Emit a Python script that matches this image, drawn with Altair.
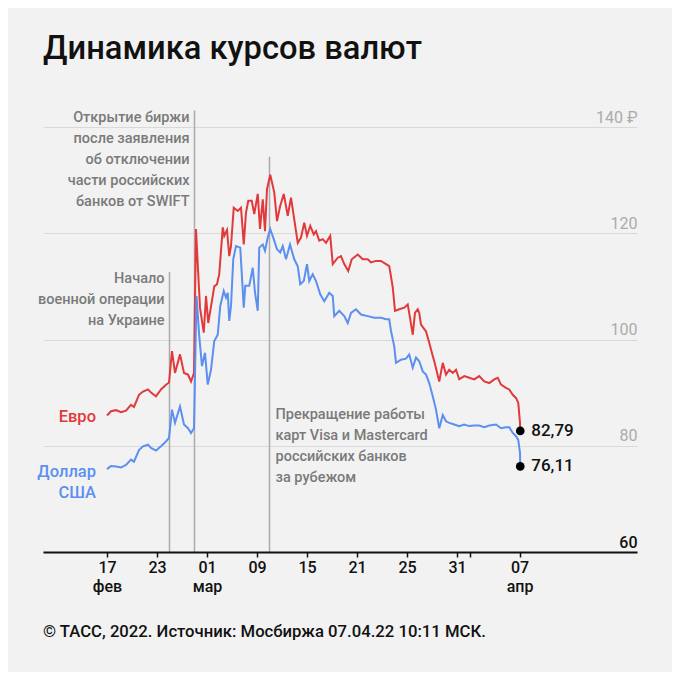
import altair as alt
import pandas as pd

# ---------------- data ----------------
# t = trading-session index (0 = 17 Feb 2022, fractional part = intraday), values in rubles
eur_t = [0.00, 0.32, 0.72, 1.12, 1.52, 1.92, 2.16, 2.56, 2.88, 3.28,
         3.52, 3.92, 4.32, 4.72, 4.96, 5.20, 5.44, 5.84, 6.16, 6.48,
         6.72, 6.96, 7.12, 7.28, 7.44, 7.74, 7.92, 8.10, 8.46, 8.58,
         8.80, 8.98, 9.26, 9.38, 9.60, 9.78, 9.92, 10.14, 10.46, 10.72,
         10.94, 11.12, 11.30, 11.58, 11.78, 12.06, 12.24, 12.46, 12.64, 12.80,
         13.06, 13.38, 13.60, 13.86, 14.14, 14.46, 14.72, 14.98, 15.26, 15.52,
         15.78, 16.00, 16.26, 16.54, 16.72, 16.98, 17.26, 17.52, 17.86, 18.06,
         18.46, 18.72, 18.98, 19.30, 19.58, 20.06, 20.46, 20.86, 21.12, 21.52,
         21.92, 22.32, 22.58, 22.86, 23.04, 23.38, 23.78, 24.06, 24.26, 24.46,
         24.64, 24.86, 24.98, 25.12, 25.52, 25.78, 26.06, 26.18, 26.58, 26.86,
         27.12, 27.38, 27.66, 27.92, 28.18, 28.58, 28.98, 29.38, 29.78, 30.18,
         30.58, 30.98, 31.26, 31.52, 31.92, 32.18, 32.46, 32.72, 32.90, 33.04,
         33.06]
eur_v = [85.7, 86.5, 86.7, 86.3, 86.6, 87.7, 87.3, 89.6, 90.2, 90.6,
         90.0, 89.3, 90.6, 91.5, 91.9, 97.8, 93.7, 97.2, 93.7, 93.4,
         92.1, 93.7, 120.8, 113.2, 106.0, 101.3, 108.2, 103.1, 108.2, 110.0,
         110.4, 112.3, 121.1, 119.5, 120.6, 115.7, 117.6, 124.8, 124.2, 124.8,
         117.9, 123.9, 126.1, 126.1, 123.6, 127.4, 120.8, 126.4, 120.4, 128.3,
         131.0, 127.7, 122.3, 125.2, 127.4, 123.3, 126.7, 122.6, 118.2, 119.2,
         122.0, 119.5, 121.4, 119.8, 120.4, 118.6, 118.9, 118.2, 119.5, 114.2,
         115.4, 115.7, 114.2, 112.9, 115.1, 116.0, 115.1, 115.1, 114.5, 114.8,
         114.8, 114.2, 113.8, 109.8, 105.4, 105.7, 106.0, 106.6, 103.8, 100.9,
         105.0, 105.7, 105.0, 102.8, 101.5, 99.4, 96.9, 95.9, 92.1, 95.6,
         93.4, 94.3, 93.7, 94.3, 92.5, 93.1, 92.8, 92.5, 93.1, 92.1,
         91.8, 92.5, 92.8, 91.5, 90.9, 90.6, 89.6, 89.0, 88.1, 84.3,
         82.79]

usd_t = [0.00, 0.32, 0.72, 1.12, 1.52, 1.92, 2.16, 2.56, 2.88, 3.28,
         3.52, 3.92, 4.32, 4.72, 4.96, 5.20, 5.44, 5.84, 6.16, 6.48,
         6.72, 6.96, 7.16, 7.38, 7.60, 7.84, 8.06, 8.32, 8.58, 8.86,
         9.06, 9.34, 9.52, 9.66, 9.78, 9.92, 10.10, 10.32, 10.66, 10.94,
         11.06, 11.38, 11.66, 11.84, 12.06, 12.18, 12.46, 12.64, 12.86, 13.06,
         13.34, 13.60, 13.86, 14.06, 14.32, 14.64, 14.98, 15.26, 15.46, 15.74,
         16.00, 16.18, 16.46, 16.72, 17.06, 17.38, 17.78, 18.06, 18.18, 18.58,
         18.98, 19.26, 19.52, 19.92, 20.32, 20.86, 21.38, 21.92, 22.32, 22.58,
         22.72, 22.98, 23.12, 23.52, 23.92, 24.18, 24.46, 24.72, 24.98, 25.26,
         25.52, 25.78, 26.06, 26.32, 26.58, 26.86, 27.12, 27.38, 27.78, 28.18,
         28.58, 28.98, 29.38, 29.78, 30.18, 30.58, 31.12, 31.52, 31.92, 32.18,
         32.46, 32.72, 32.90, 33.04, 33.06]
usd_v = [75.6, 76.2, 76.1, 75.9, 76.4, 77.4, 77.0, 79.2, 79.9, 80.2,
         79.6, 79.1, 79.9, 80.8, 81.5, 86.8, 84.3, 87.4, 84.0, 83.3,
         82.4, 83.3, 108.2, 100.6, 95.0, 97.5, 91.5, 94.3, 99.7, 100.9,
         106.3, 109.1, 107.9, 108.8, 103.5, 106.3, 115.1, 117.6, 117.3, 106.0,
         110.1, 110.1, 113.5, 108.8, 105.4, 117.3, 117.9, 116.7, 119.2, 120.8,
         118.9, 117.0, 116.4, 117.6, 115.1, 117.9, 115.1, 113.8, 110.4, 111.0,
         114.2, 111.0, 112.3, 111.0, 108.5, 107.2, 108.8, 108.2, 104.4, 105.4,
         104.4, 103.1, 105.0, 105.7, 104.7, 104.4, 104.1, 104.1, 103.8, 103.8,
         101.6, 98.7, 95.6, 96.2, 96.4, 97.2, 94.7, 96.6, 95.9, 94.0,
         93.4, 91.8, 89.3, 86.8, 83.3, 85.8, 84.6, 84.3, 84.0, 83.7,
         84.0, 83.7, 83.8, 83.8, 83.5, 83.8, 84.0, 83.3, 83.5, 83.5,
         82.4, 81.8, 81.1, 78.6, 76.11]

currencies = ["Евро", "Доллар США"]
series_labels = ["Евро", "Доллар\nСША"]
series_label_t = [0, 0]
series_label_y = [87.0, 76.6]

end_t = [33.06, 33.06]
end_v = [82.79, 76.11]
end_labels = ["82,79", "76,11"]

# x-axis ticks (session index) and their labels
tick_vals = [0, 4, 8, 12, 16, 20, 24, 28, 29, 33]
tick_top = ["17", "23", "01", "09", "15", "21", "25", "31", "", "07"]
tick_bottom = ["фев", "", "мар", "", "", "", "", "", "", "апр"]

y_ticks = [60, 80, 100, 120, 140]

# events
event_t = [5, 7, 13]
event_top = [112.7, 143.1, 134.4]
event_text_y = [112.8, 143.1, 87.2]
event_texts = [
    "Начало\nвоенной операции\nна Украине",
    "Открытие биржи\nпосле заявления\nоб отключении\nчасти российских\nбанков от SWIFT",
    "Прекращение работы\nкарт Visa и Mastercard\nроссийских банков\nза рубежом",
]
event_side = ["left", "left", "right"]

title_text = "Динамика курсов валют"
footer_text = "© ТАСС, 2022. Источник: Мосбиржа 07.04.22 10:11 МСК."

# ---------------- styling ----------------
RED = "#e2393b"
BLUE = "#5b8ff0"
BG = "#f2f2f2"
FONT = "Roboto"
W, H = 594, 425

xs = alt.Scale(domain=[-5.12, 42.4], nice=False, zero=False)
ys = alt.Scale(domain=[60, 140], nice=False, zero=False)
cs = alt.Scale(domain=currencies, range=[RED, BLUE])

series = pd.concat([
    pd.DataFrame({"t": eur_t, "v": eur_v, "cur": currencies[0]}),
    pd.DataFrame({"t": usd_t, "v": usd_v, "cur": currencies[1]}),
])

parts = []
for v, top, bot in zip(tick_vals, tick_top, tick_bottom):
    lab = f"['{top}','{bot}']" if bot else f"'{top}'"
    parts.append(f"datum.value == {v} ? {lab} : ")
x_label_expr = "".join(parts) + "''"

x_axis = alt.Axis(
    values=tick_vals, labelExpr=x_label_expr, title=None, grid=False,
    domainColor="#111111", domainWidth=2, tickColor="#111111", tickWidth=1.5,
    tickSize=5, labelFont=FONT, labelFontSize=16, labelFontWeight=500,
    labelColor="#111111", labelPadding=2, labelLineHeight=19,
    labelOverlap=False, labelFlush=False, labelBound=False, zindex=1,
)
y_axis = alt.Axis(
    orient="right", values=y_ticks, title=None, grid=True, gridColor="#d9d9d9",
    gridWidth=1, domain=False, ticks=False, tickSize=0, labelAlign="right",
    labelBaseline="alphabetic", labelOffset=-5, labelPadding=0, labelFont=FONT,
    labelFontSize=16,
    labelColor={"condition": {"test": "datum.value == 60", "value": "#111111"}, "value": "#ababab"},
    labelFontWeight={"condition": {"test": "datum.value == 60", "value": 500}, "value": 400},
    labelExpr="datum.value == 140 ? '140 ₽' : datum.label",
)


def X(field):
    return alt.X(field, scale=xs, axis=x_axis)


def Y(field):
    return alt.Y(field, scale=ys, axis=y_axis)


lines = alt.Chart(series).mark_line(strokeWidth=2).encode(
    x=X("t:Q"),
    y=Y("v:Q"),
    color=alt.Color("cur:N", scale=cs, legend=None),
)

events = pd.DataFrame({"t": event_t, "top": event_top, "ty": event_text_y,
                       "txt": event_texts, "side": event_side})

rules = alt.Chart(events).mark_rule(color="#ababab", strokeWidth=1.5).encode(
    x=X("t:Q"),
    y=Y("top:Q"),
    y2=alt.datum(60),
)

ann_left = alt.Chart(events).transform_filter("datum.side == 'left'").mark_text(
    align="right", baseline="top", dx=-5, lineBreak="\n", lineHeight=21,
    font=FONT, fontSize=14.5, fontWeight=500, color="#7a7a7a",
).encode(x=X("t:Q"), y=Y("ty:Q"), text="txt:N")

ann_right = alt.Chart(events).transform_filter("datum.side == 'right'").mark_text(
    align="left", baseline="top", dx=6, lineBreak="\n", lineHeight=21,
    font=FONT, fontSize=14.5, fontWeight=500, color="#7a7a7a",
).encode(x=X("t:Q"), y=Y("ty:Q"), text="txt:N")

labels_df = pd.DataFrame({"t": series_label_t, "y": series_label_y,
                          "txt": series_labels, "cur": currencies})
series_text = alt.Chart(labels_df).mark_text(
    align="right", baseline="top", dx=-11, lineBreak="\n", lineHeight=21,
    font=FONT, fontSize=16.5, fontWeight=500,
).encode(
    x=X("t:Q"), y=Y("y:Q"), text="txt:N",
    color=alt.Color("cur:N", scale=cs, legend=None),
)

end_df = pd.DataFrame({"t": end_t, "v": end_v, "lab": end_labels})
dots = alt.Chart(end_df).mark_point(filled=True, size=75, color="#000000", opacity=1).encode(
    x=X("t:Q"), y=Y("v:Q"),
)
end_text = alt.Chart(end_df).mark_text(
    align="left", baseline="middle", dx=11, font=FONT, fontSize=17,
    fontWeight=500, color="#111111",
).encode(x=X("t:Q"), y=Y("v:Q"), text="lab:N")

title = alt.Chart(pd.DataFrame({"txt": [title_text]})).mark_text(
    align="left", baseline="alphabetic", font=FONT, fontSize=32.7, fontWeight=500,
    color="#111111",
).encode(x=alt.value(0), y=alt.value(-68), text="txt:N")

footer = alt.Chart(pd.DataFrame({"txt": [footer_text]})).mark_text(
    align="left", baseline="alphabetic", font=FONT, fontSize=16.7, fontWeight=500,
    color="#111111",
).encode(x=alt.value(0), y=alt.value(H + 85), text="txt:N")

chart = alt.layer(
    rules, lines, ann_left, ann_right, series_text, dots, end_text, title, footer
).properties(
    width=W, height=H, background=BG,
    autosize=alt.AutoSizeParams(type="none"),
    padding={"left": 35, "top": 119, "right": 35, "bottom": 120},
).configure_view(stroke=None)

chart.save("out.html", embed_options={"renderer": "svg", "actions": False})
